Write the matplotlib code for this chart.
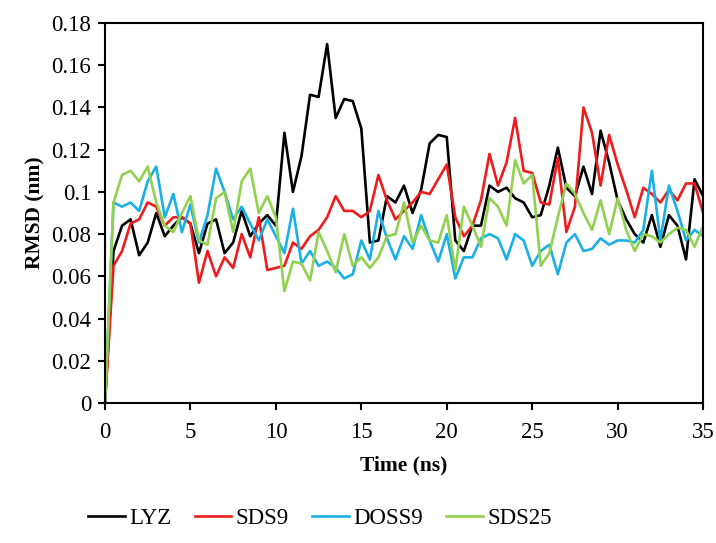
import numpy as np
import matplotlib
matplotlib.use("Agg")
import matplotlib.pyplot as plt
from matplotlib.ticker import FormatStrFormatter, MultipleLocator

plt.rcParams['font.family'] = ['Liberation Serif', 'DejaVu Serif']

# time axis, one sample every 0.5 ns
time = np.arange(0, 35.5, 0.5)

lyz = [0, 0.072, 0.084, 0.087, 0.070, 0.076, 0.090, 0.079, 0.084, 0.088,
       0.085, 0.071, 0.085, 0.087, 0.071, 0.076, 0.091, 0.079, 0.085, 0.089,
       0.084, 0.128, 0.100, 0.117, 0.146, 0.145, 0.170, 0.135, 0.144, 0.143,
       0.130, 0.076, 0.077, 0.098, 0.095, 0.103, 0.090, 0.101, 0.123, 0.127,
       0.126, 0.077, 0.072, 0.084, 0.084, 0.103, 0.100, 0.102, 0.097, 0.095,
       0.088, 0.089, 0.103, 0.121, 0.102, 0.098, 0.112, 0.099, 0.129, 0.114,
       0.096, 0.087, 0.080, 0.076, 0.089, 0.074, 0.089, 0.084, 0.068, 0.106,
       0.098]

sds9 = [0, 0.065, 0.072, 0.085, 0.087, 0.095, 0.093, 0.084, 0.088, 0.088,
        0.085, 0.057, 0.072, 0.060, 0.069, 0.064, 0.080, 0.069, 0.088, 0.063,
        0.064, 0.065, 0.076, 0.073, 0.079, 0.082, 0.088, 0.098, 0.091, 0.091,
        0.088, 0.091, 0.108, 0.096, 0.087, 0.091, 0.095, 0.100, 0.099, 0.106,
        0.113, 0.088, 0.079, 0.084, 0.096, 0.118, 0.103, 0.114, 0.135, 0.110,
        0.109, 0.095, 0.094, 0.116, 0.081, 0.093, 0.140, 0.128, 0.103, 0.127,
        0.113, 0.101, 0.088, 0.102, 0.099, 0.095, 0.101, 0.096, 0.104, 0.104,
        0.090]

doss9 = [0, 0.095, 0.093, 0.095, 0.091, 0.105, 0.112, 0.088, 0.099, 0.081,
         0.094, 0.076, 0.089, 0.111, 0.100, 0.087, 0.093, 0.085, 0.077, 0.087,
         0.079, 0.071, 0.092, 0.066, 0.072, 0.065, 0.067, 0.064, 0.059, 0.061,
         0.077, 0.068, 0.091, 0.078, 0.068, 0.079, 0.073, 0.089, 0.077, 0.067,
         0.080, 0.059, 0.069, 0.069, 0.078, 0.080, 0.078, 0.068, 0.080, 0.077,
         0.065, 0.072, 0.075, 0.061, 0.076, 0.080, 0.072, 0.073, 0.078, 0.075,
         0.077, 0.077, 0.076, 0.082, 0.110, 0.077, 0.103, 0.091, 0.077, 0.082,
         0.079]

sds25 = [0, 0.095, 0.108, 0.110, 0.105, 0.112, 0.095, 0.084, 0.081, 0.090,
         0.098, 0.077, 0.075, 0.097, 0.100, 0.081, 0.105, 0.111, 0.090, 0.098,
         0.088, 0.053, 0.067, 0.066, 0.058, 0.081, 0.072, 0.062, 0.080, 0.065,
         0.069, 0.064, 0.069, 0.079, 0.080, 0.095, 0.076, 0.084, 0.077, 0.076,
         0.089, 0.063, 0.093, 0.084, 0.074, 0.097, 0.093, 0.084, 0.115, 0.104,
         0.108, 0.065, 0.071, 0.088, 0.104, 0.099, 0.090, 0.082, 0.096, 0.080,
         0.097, 0.082, 0.072, 0.080, 0.079, 0.076, 0.080, 0.083, 0.082, 0.074,
         0.084]

names = ["LYZ", "SDS9", "DOSS9", "SDS25"]
colors = ["black", "#ee1c1c", "#1ab0e6", "#92d050"]

fig = plt.figure(figsize=(7.16, 5.43), dpi=100)
ax = fig.add_axes([0.1466, 0.2578, 0.8354, 0.6998])

for vals, name, c in zip([lyz, sds9, doss9, sds25], names, colors):
    ax.plot(time, vals, color=c, lw=1.9, label=name)

ax.set_xlim(0, 35)
ax.set_ylim(0, 0.18)
ax.xaxis.set_major_locator(MultipleLocator(5))
ax.yaxis.set_major_locator(MultipleLocator(0.02))
ax.yaxis.set_major_formatter(FormatStrFormatter('%g'))
ax.tick_params(direction='out', length=5, width=1.5, labelsize=16.5)
ax.tick_params(axis='x', pad=9)
ax.tick_params(axis='y', pad=5)

for sp in ax.spines.values():
    sp.set_linewidth(1.5)

ax.set_xlabel("Time (ns)", fontsize=15.5, fontweight='bold', labelpad=9)
ax.set_ylabel("RMSD (nm)", fontsize=15.5, fontweight='bold', labelpad=4)

fig.legend(loc='center', bbox_to_anchor=(0.447, 0.046), ncol=4, frameon=False,
           fontsize=16.5, handlelength=1.6, columnspacing=1.0, handletextpad=0.2)

fig.savefig("out.png", dpi=100)
